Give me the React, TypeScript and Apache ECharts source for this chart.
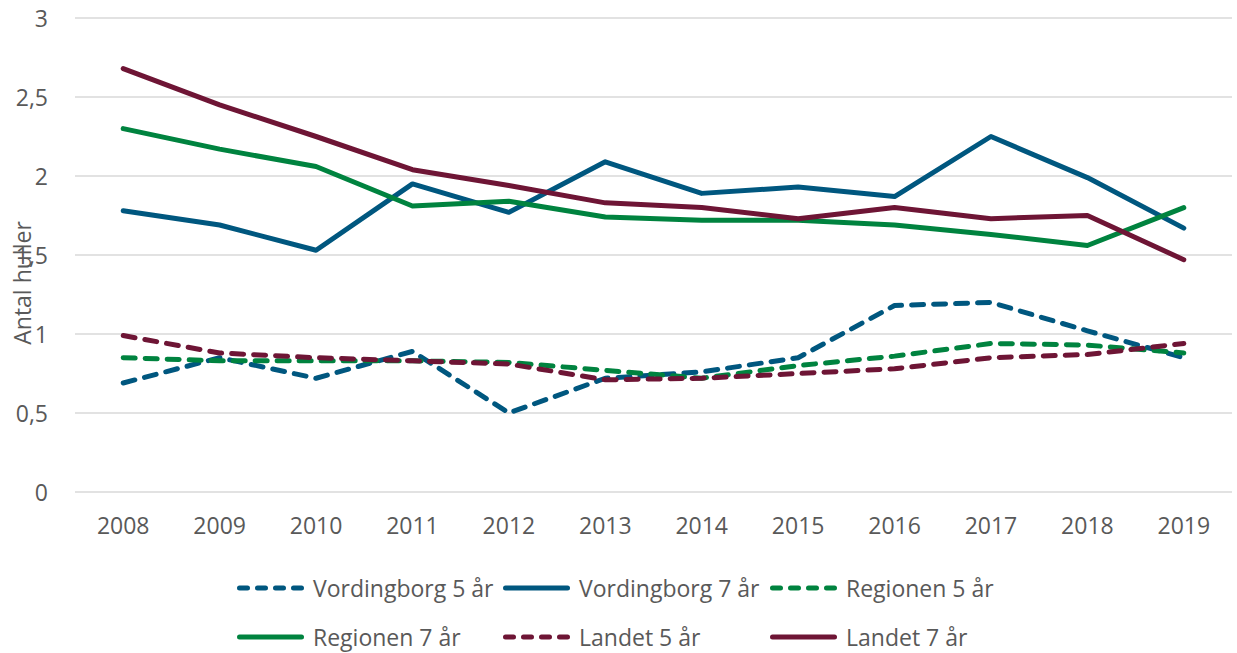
import React, { useEffect, useRef } from "react";
import * as echarts from "echarts";

const years = ["2008", "2009", "2010", "2011", "2012", "2013", "2014", "2015", "2016", "2017", "2018", "2019"];
const vording5 = [0.69, 0.85, 0.72, 0.89, 0.5, 0.72, 0.76, 0.85, 1.18, 1.2, 1.02, 0.85];
const vording7 = [1.78, 1.69, 1.53, 1.95, 1.77, 2.09, 1.89, 1.93, 1.87, 2.25, 1.99, 1.67];
const region5 = [0.85, 0.83, 0.83, 0.83, 0.82, 0.77, 0.72, 0.8, 0.86, 0.94, 0.93, 0.88];
const region7 = [2.3, 2.17, 2.06, 1.81, 1.84, 1.74, 1.72, 1.72, 1.69, 1.63, 1.56, 1.8];
const landet5 = [0.99, 0.88, 0.85, 0.83, 0.81, 0.71, 0.72, 0.75, 0.78, 0.85, 0.87, 0.94];
const landet7 = [2.68, 2.45, 2.25, 2.04, 1.94, 1.83, 1.8, 1.73, 1.8, 1.73, 1.75, 1.47];

const names = ["Vordingborg 5 år", "Vordingborg 7 år", "Regionen 5 år", "Regionen 7 år", "Landet 5 år", "Landet 7 år"];
const dashedFlags = [true, false, true, false, true, false];
const BLUE = "#00577f";
const GREEN = "#00833f";
const RED = "#6e1535";
const FONT = "'Open Sans', sans-serif";
const TXT = "#595959";

const DASH_ICON =
  "path://M2.5,0 h8 a2.5,2.5 0 0 1 0,5 h-8 a2.5,2.5 0 0 1 0,-5 z M20.5,0 h8 a2.5,2.5 0 0 1 0,5 h-8 a2.5,2.5 0 0 1 0,-5 z M38.5,0 h8 a2.5,2.5 0 0 1 0,5 h-8 a2.5,2.5 0 0 1 0,-5 z M56.5,0 h8 a2.5,2.5 0 0 1 0,5 h-8 a2.5,2.5 0 0 1 0,-5 z";
const SOLID_ICON = "path://M2.5,0 h62 a2.5,2.5 0 0 1 0,5 h-62 a2.5,2.5 0 0 1 0,-5 z";

export default function App() {
  const ref = useRef<HTMLDivElement>(null);
  useEffect(() => {
    const chart = echarts.init(ref.current!, null, { renderer: "svg" });
    const mk = (name: string, data: number[], color: string, dashed: boolean) => ({
      name,
      type: "line",
      data,
      symbol: "none",
      lineStyle: { color, width: 5, type: dashed ? [12, 10] : "solid", cap: "round", join: "round" },
      itemStyle: { color },
    });
    const cols = [237, 503, 770];
    const rows = [588, 637];
    const legends = names.map((n, i) => ({
      orient: "horizontal",
      left: cols[i % 3],
      top: rows[Math.floor(i / 3)] - 13,
      padding: 0,
      itemWidth: 67,
      itemHeight: 5,
      itemGap: 0,
      itemStyle: { borderWidth: 0 },
      textStyle: { fontFamily: FONT, fontSize: 23, color: TXT, lineHeight: 26, padding: [0, 0, 0, 4] },
      data: [{ name: n, icon: dashedFlags[i] ? DASH_ICON : SOLID_ICON }],
    }));
    chart.setOption({
      animation: false,
      grid: { left: 75, right: 5, top: 18, bottom: 161 },
      xAxis: {
        type: "category",
        data: years,
        boundaryGap: true,
        axisLine: { show: false },
        axisTick: { show: false },
        axisLabel: { fontFamily: FONT, fontSize: 23, color: TXT, margin: 21 },
      },
      yAxis: {
        type: "value",
        min: 0,
        max: 3,
        interval: 0.5,
        axisLine: { show: false },
        axisTick: { show: false },
        splitLine: { lineStyle: { color: "#d9d9d9", width: 1.5 } },
        axisLabel: {
          fontFamily: FONT,
          fontSize: 23,
          color: TXT,
          margin: 27,
          formatter: (v: number) => String(v).replace(".", ","),
        },
      },
      legend: legends,
      graphic: [
        {
          type: "text",
          x: 22,
          y: 283,
          rotation: Math.PI / 2,
          style: {
            text: "Antal huller",
            fontFamily: FONT,
            fontSize: 23,
            fill: TXT,
            align: "center",
            verticalAlign: "middle",
          },
        },
      ],
      series: [
        mk(names[0], vording5, BLUE, true),
        mk(names[1], vording7, BLUE, false),
        mk(names[2], region5, GREEN, true),
        mk(names[3], region7, GREEN, false),
        mk(names[4], landet5, RED, true),
        mk(names[5], landet7, RED, false),
      ],
    });
    return () => chart.dispose();
  }, []);
  return <div ref={ref} style={{ width: 1237, height: 653, position: "absolute", left: 0, top: 0 }} />;
}
